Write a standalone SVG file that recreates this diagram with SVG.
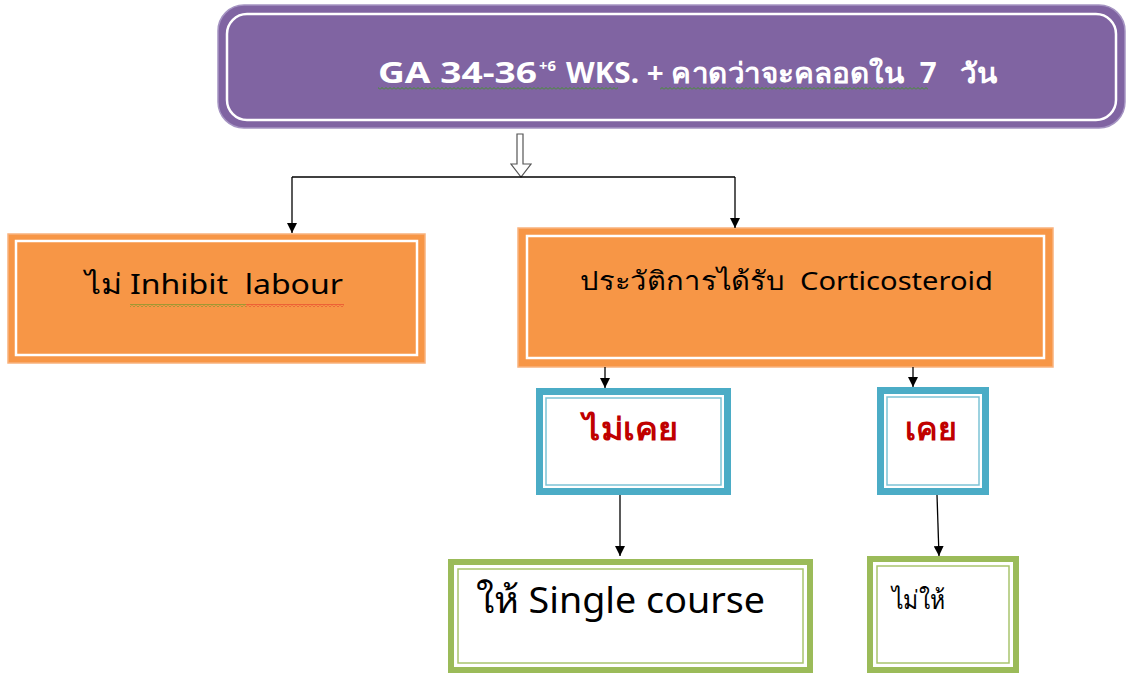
<svg xmlns="http://www.w3.org/2000/svg" width="1127" height="675" viewBox="0 0 1127 675">
<defs>
<style>
text{font-family:"Noto Sans","Open Sans","DejaVu Sans",sans-serif;white-space:pre}
.conn{stroke:#000;stroke-width:1.3;fill:none}
.orange{fill:#F79646;stroke:#F9B27E;stroke-width:1.5}
.owhite{fill:none;stroke:#fff;stroke-width:2.5}
.cyanO{fill:#fff;stroke:#4BACC6;stroke-width:7}
.cyanI{fill:none;stroke:#7CC3D6;stroke-width:1.5}
.greenO{fill:#fff;stroke:#9BBB59;stroke-width:6}
.greenI{fill:none;stroke:#A9C46E;stroke-width:1.5}
.red{fill:#C00000;font-weight:bold}
.wt{fill:#fff;font-weight:bold}
</style>
<marker id="ah" viewBox="0 0 10 10" refX="10" refY="5" markerWidth="10" markerHeight="10" markerUnits="userSpaceOnUse" orient="auto">
<path d="M0,0 L10,5 L0,10 z" fill="#000"/>
</marker>
<pattern id="wg" width="4" height="3" patternUnits="userSpaceOnUse">
<polyline points="0,2.5 2,0.5 4,2.5" fill="none" stroke="#3a9a1a" stroke-width="0.9"/>
</pattern>
<pattern id="wr" width="4" height="3" patternUnits="userSpaceOnUse">
<polyline points="0,2.5 2,0.5 4,2.5" fill="none" stroke="#e02020" stroke-width="0.9"/>
</pattern>
</defs>

<g id="top">
<rect x="218" y="5" width="907" height="123" rx="26" fill="#8064A2" stroke="#A594C2" stroke-width="1.5"/>
<rect x="227" y="14" width="889" height="106" rx="20" fill="none" stroke="#fff" stroke-width="2.5"/>
<text class="wt" x="378" y="83" font-size="28" textLength="159" lengthAdjust="spacingAndGlyphs">GA 34-36</text>
<text class="wt" x="539" y="71" font-size="14" textLength="17" lengthAdjust="spacingAndGlyphs">+6</text>
<text class="wt" x="566" y="83" font-size="28" textLength="431" lengthAdjust="spacingAndGlyphs">WKS. + คาดว่าจะคลอดใน  7   วัน</text>
<rect x="378" y="87" width="240" height="3" fill="url(#wg)"/>
<rect x="660" y="87" width="268" height="3" fill="url(#wg)"/>
</g>

<g id="left">
<rect class="orange" x="8" y="234" width="417" height="129"/>
<rect class="owhite" x="16" y="241" width="401" height="114"/>
<text x="85" y="294" font-size="28" fill="#000" textLength="258" lengthAdjust="spacingAndGlyphs">ไม่ Inhibit  labour</text>
<rect x="130" y="304" width="116" height="3" fill="url(#wg)"/>
<rect x="246" y="304" width="98" height="3" fill="url(#wr)"/>
</g>

<g id="history">
<rect class="orange" x="518" y="228" width="535" height="139"/>
<rect class="owhite" x="527" y="236" width="517" height="122"/>
<text x="580" y="290" font-size="26" fill="#000" textLength="413" lengthAdjust="spacingAndGlyphs">ประวัติการได้รับ  Corticosteroid</text>
</g>

<g id="never">
<rect class="cyanO" x="539.5" y="391.5" width="188" height="100"/>
<rect class="cyanI" x="546" y="398" width="175" height="87"/>
<text x="583" y="440" font-size="31" class="red" textLength="95" lengthAdjust="spacingAndGlyphs">ไม่เคย</text>
</g>

<g id="ever">
<rect class="cyanO" x="880.5" y="390.5" width="105" height="101"/>
<rect class="cyanI" x="887" y="397" width="92" height="88"/>
<text x="905" y="440" font-size="31" class="red" textLength="52" lengthAdjust="spacingAndGlyphs">เคย</text>
</g>

<g id="single">
<rect class="greenO" x="451" y="562" width="359" height="108"/>
<rect class="greenI" x="458" y="569" width="345" height="94"/>
<text x="476" y="613" font-size="37" fill="#000" textLength="289" lengthAdjust="spacingAndGlyphs">ให้ Single course</text>
</g>

<g id="nogive">
<rect class="greenO" x="870" y="559" width="146" height="111"/>
<rect class="greenI" x="877" y="566" width="132" height="97"/>
<text x="892" y="609" font-size="26" fill="#000" textLength="53" lengthAdjust="spacingAndGlyphs">ไม่ให้</text>
</g>

<g id="connectors">
<path d="M517,134 h6 v30 h8 l-10,13 l-10,-13 h6 z" fill="#fff" stroke="#555" stroke-width="1.2"/>
<path class="conn" d="M292,177 H735"/>
<path class="conn" d="M292,177 V233" marker-end="url(#ah)"/>
<path class="conn" d="M735,177 V228" marker-end="url(#ah)"/>
<path class="conn" d="M605,367 V388" marker-end="url(#ah)"/>
<path class="conn" d="M913,367 V387" marker-end="url(#ah)"/>
<path class="conn" d="M620,495 V556" marker-end="url(#ah)"/>
<path class="conn" d="M937,495 L939,556" marker-end="url(#ah)"/>
</g>
</svg>
